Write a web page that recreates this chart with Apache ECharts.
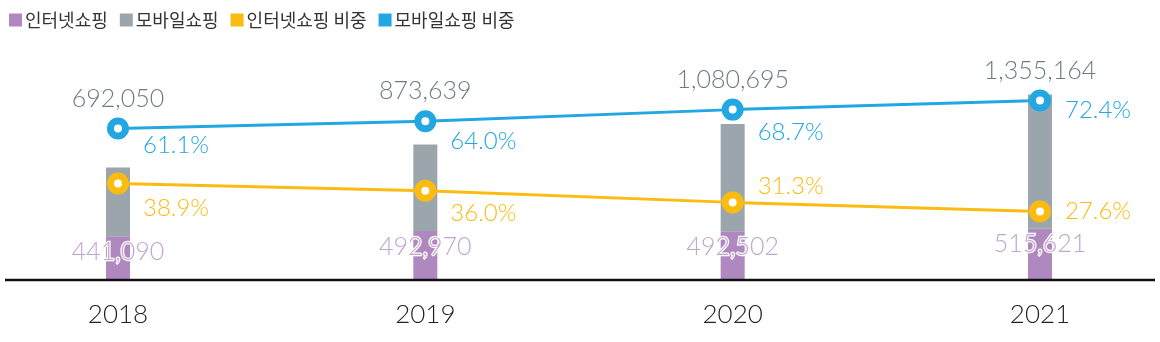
<!DOCTYPE html>
<html>
<head>
<meta charset="utf-8">
<script src="https://cdn.jsdelivr.net/npm/echarts@6/dist/echarts.min.js"></script>
<style>
html,body{margin:0;padding:0;background:#fff;}
#chart{width:1160px;height:342px;}
</style>
</head>
<body>
<div id="chart"></div>
<script>
const categories = ['2018', '2019', '2020', '2021'];
const internetShopping = [441090, 492970, 492502, 515621];
const mobileShopping = [692050, 873639, 1080695, 1355164];
const internetShare = [38.9, 36.0, 31.3, 27.6];
const mobileShare = [61.1, 64.0, 68.7, 72.4];
const seriesNames = ['인터넷쇼핑', '모바일쇼핑', '인터넷쇼핑 비중', '모바일쇼핑 비중'];

// label layout (vertical offsets of percentage labels)
const internetPctDy = [25, 23, -16, 0];
const mobilePctDy = [17, 20, 23, 10];

const numFont = 'Lato, "Noto Sans", sans-serif';
const fmt = v => v.toLocaleString('en-US');

const colors = {
  internet: '#ae88be',
  mobile: '#9ba6ac',
  internetShare: '#fbbc11',
  mobileShare: '#22a7e2'
};
const seriesColors = [colors.internet, colors.mobile, colors.internetShare, colors.mobileShare];

const chart = echarts.init(document.getElementById('chart'), null, {renderer: 'canvas'});

function pctData(values, dys) {
  return values.map((v, i) => ({
    value: v,
    label: {offset: [0, dys[i]]}
  }));
}

function lineSeries(name, values, dys, color) {
  return {
    name: name,
    type: 'line',
    yAxisIndex: 1,
    data: pctData(values, dys),
    itemStyle: {color: '#fff', borderColor: color, borderWidth: 7},
    lineStyle: {color: color, width: 3},
    symbol: 'circle',
    symbolSize: 15,
    z: 5,
    label: {
      show: true,
      position: 'right',
      distance: 14,
      formatter: p => p.value.toFixed(1) + '%',
      fontFamily: numFont,
      fontSize: 24,
      fontWeight: 300,
      color: color
    }
  };
}

chart.setOption({
  animation: false,
  legend: {
    data: seriesNames.map((n, i) => ({name: n, itemStyle: {color: seriesColors[i], borderWidth: 0}})),
    left: 4,
    top: 6,
    itemWidth: 13,
    itemHeight: 13,
    itemGap: 12,
    icon: 'rect',
    textStyle: {fontFamily: '"Noto Sans CJK KR", sans-serif', fontSize: 18, color: '#333', padding: [0, 0, 0, -2]}
  },
  grid: {left: 118, right: 120, top: 32, bottom: 62, containLabel: false},
  xAxis: {
    type: 'category',
    data: categories,
    boundaryGap: false,
    axisLine: {show: false},
    axisTick: {show: false},
    splitLine: {show: false},
    axisLabel: {margin: 22, fontFamily: numFont, fontSize: 26, fontWeight: 300, color: '#222'}
  },
  yAxis: [
    {type: 'value', min: 0, max: 2500000, show: false, splitLine: {show: false}},
    {type: 'value', min: 0, max: 100, show: false, splitLine: {show: false}}
  ],
  graphic: [{
    type: 'line',
    shape: {x1: 5, y1: 280, x2: 1155, y2: 280},
    style: {stroke: '#111', lineWidth: 2.5},
    z: 10
  }],
  series: [
    {
      name: seriesNames[0],
      type: 'bar',
      stack: 'total',
      barWidth: 24,
      data: internetShopping,
      itemStyle: {color: colors.internet},
      z: 2,
      label: {
        show: true,
        position: 'insideTop',
        distance: 3,
        formatter: p => fmt(p.value),
        fontFamily: numFont,
        fontSize: 25,
        fontWeight: 300,
        color: '#c3a4d0',
        textBorderColor: '#fff',
        textBorderWidth: 2.5
      }
    },
    {
      name: seriesNames[1],
      type: 'bar',
      stack: 'total',
      barWidth: 24,
      data: mobileShopping,
      itemStyle: {color: colors.mobile},
      z: 2
    },
    lineSeries(seriesNames[2], internetShare, internetPctDy, colors.internetShare),
    lineSeries(seriesNames[3], mobileShare, mobilePctDy, colors.mobileShare),
    {
      name: 'mobileValueLabels',
      type: 'line',
      yAxisIndex: 1,
      data: mobileShare,
      symbol: 'circle',
      symbolSize: 15,
      showSymbol: true,
      itemStyle: {color: 'rgba(0,0,0,0)', borderWidth: 0},
      lineStyle: {width: 0, color: 'rgba(0,0,0,0)'},
      silent: true,
      z: 6,
      label: {
        show: true,
        position: 'top',
        distance: 10,
        formatter: p => fmt(mobileShopping[p.dataIndex]),
        fontFamily: numFont,
        fontSize: 25,
        fontWeight: 300,
        color: '#6e7b82'
      }
    }
  ]
});
</script>
</body>
</html>
